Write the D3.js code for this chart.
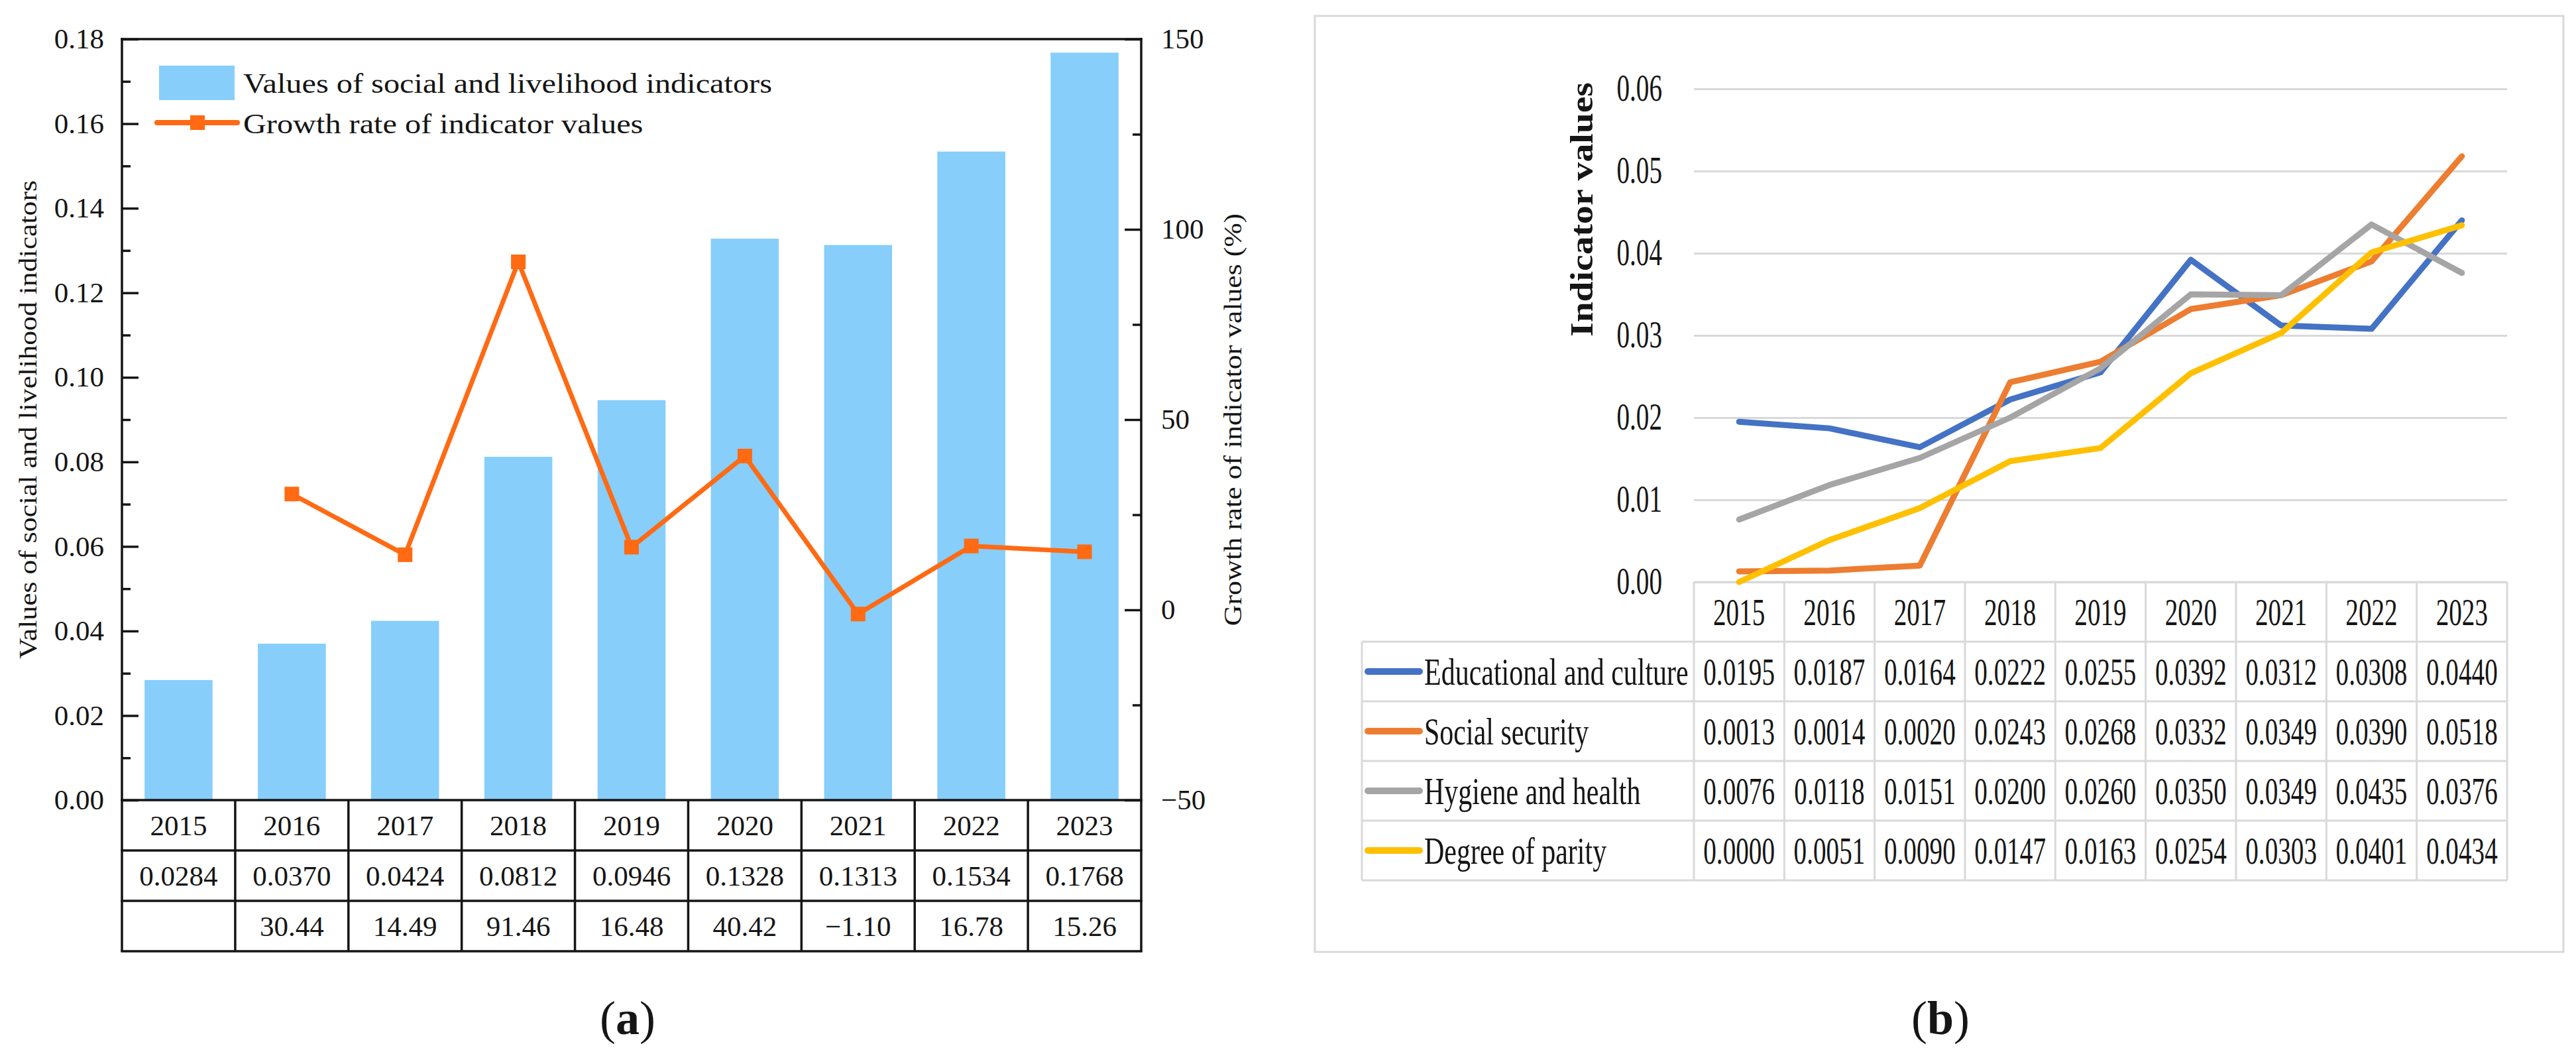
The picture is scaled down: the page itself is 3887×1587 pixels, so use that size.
<!DOCTYPE html>
<html>
<head>
<meta charset="utf-8">
<script src="https://cdn.jsdelivr.net/npm/d3@7"></script>
<style>
  body { margin: 0; background: #fff; }
  svg { display: block; }
  text { font-family: "Liberation Serif", "Times New Roman", serif; fill: #151515; }
</style>
</head>
<body>
<div id="chart"></div>
<script>

    // ---- data, panel (a) ----
    const years = ['2015', '2016', '2017', '2018', '2019', '2020', '2021', '2022', '2023'];
    const indicatorValues = [0.0284, 0.0370, 0.0424, 0.0812, 0.0946, 0.1328, 0.1313, 0.1534, 0.1768];
    const growthRates = [null, 30.44, 14.49, 91.46, 16.48, 40.42, -1.10, 16.78, 15.26];
    const leftTicks = [0, 0.02, 0.04, 0.06, 0.08, 0.10, 0.12, 0.14, 0.16, 0.18];
    const leftMinor = [0.01, 0.03, 0.05, 0.07, 0.09, 0.11, 0.13, 0.15, 0.17];
    const rightTicks = [-50, 0, 50, 100, 150];
    const rightMinor = [-25, 25, 75, 125];

    // ---- data, panel (b) ----
    const seriesNames = ['Educational and culture', 'Social security', 'Hygiene and health', 'Degree of parity'];
    const eduCulture = [0.0195, 0.0187, 0.0164, 0.0222, 0.0255, 0.0392, 0.0312, 0.0308, 0.0440];
    const socialSecurity = [0.0013, 0.0014, 0.0020, 0.0243, 0.0268, 0.0332, 0.0349, 0.0390, 0.0518];
    const hygieneHealth = [0.0076, 0.0118, 0.0151, 0.0200, 0.0260, 0.0350, 0.0349, 0.0435, 0.0376];
    const parity = [0.0000, 0.0051, 0.0090, 0.0147, 0.0163, 0.0254, 0.0303, 0.0401, 0.0434];
    const seriesColors = ['#4472c4', '#ed7d31', '#a5a5a5', '#ffc000'];
    const bTicks = [0, 0.01, 0.02, 0.03, 0.04, 0.05, 0.06];

    const barColor = '#87cefa';
    const lineColor = '#ff6a13';
    const ink = '#151515';
    const grid = '#d9d9d9';

    const svg = d3.select('#chart').append('svg')
        .attr('width', 3887)
        .attr('height', 1587);

    // text with a horizontal stretch (the figure was resized unevenly)
    function label(g, x, y, str, size, sx, anchor) {
        return g.append('text')
            .attr('transform', `translate(${x},${y}) scale(${sx},1)`)
            .attr('text-anchor', anchor || 'middle')
            .attr('dy', '0.35em')
            .style('font-size', size + 'px')
            .text(str);
    }

    function squeeze(sel, sx) { // re-anchor axis labels so they can be scaled
        sel.each(function() {
            const t = d3.select(this);
            const x = +t.attr('x') || 0;
            t.attr('x', 0).attr('transform', `translate(${x},0) scale(${sx},1)`);
        });
    }

    // =================== panel (a) ===================
    const a = { left: 184, right: 1722, top: 59, bottom: 1207, row: 76 };
    const ga = svg.append('g');

    const xa = d3.scaleBand().domain(years).range([a.left, a.right])
        .paddingInner(0.4).paddingOuter(0.2);
    const ya = d3.scaleLinear().domain([0, 0.18]).range([a.bottom, a.top]);
    const yg = d3.scaleLinear().domain([-50, 150]).range([a.bottom, a.top]);
    const cx = d => xa(d) + xa.bandwidth() / 2;

    ga.selectAll('rect.bar')
        .data(years.map((y, i) => ({ year: y, v: indicatorValues[i] })))
        .enter().append('rect')
        .attr('class', 'bar')
        .attr('x', d => xa(d.year))
        .attr('width', xa.bandwidth())
        .attr('y', d => ya(d.v))
        .attr('height', d => ya(0) - ya(d.v))
        .style('fill', barColor);

    const growth = years.map((y, i) => ({ year: y, g: growthRates[i] })).filter(d => d.g !== null);

    ga.append('path')
        .datum(growth)
        .attr('d', d3.line().x(d => cx(d.year)).y(d => yg(d.g)))
        .style('fill', 'none')
        .style('stroke', lineColor)
        .style('stroke-width', 7)
        .style('stroke-linejoin', 'round');

    ga.selectAll('rect.mk')
        .data(growth)
        .enter().append('rect')
        .attr('class', 'mk')
        .attr('x', d => cx(d.year) - 11)
        .attr('y', d => yg(d.g) - 11)
        .attr('width', 22)
        .attr('height', 22)
        .style('fill', lineColor);

    // axes, ticks pointing inward
    function styleAxis(g) {
        g.select('.domain').remove();
        g.selectAll('line').style('stroke', ink).style('stroke-width', 3.5);
        g.selectAll('text').style('font-size', '43px').style('font-family', '"Liberation Serif", serif').style('fill', ink);
    }

    ga.append('g').attr('transform', `translate(${a.left},0)`)
        .call(d3.axisLeft(ya).tickValues(leftTicks).tickFormat(d3.format('.2f')).tickSize(-25).tickPadding(27))
        .call(styleAxis);
    ga.append('g').attr('transform', `translate(${a.left},0)`)
        .call(d3.axisLeft(ya).tickValues(leftMinor).tickFormat('').tickSize(-13))
        .call(styleAxis);
    ga.append('g').attr('transform', `translate(${a.right},0)`)
        .call(d3.axisRight(yg).tickValues(rightTicks).tickFormat(d3.format('d')).tickSize(-25).tickPadding(30))
        .call(styleAxis);
    ga.append('g').attr('transform', `translate(${a.right},0)`)
        .call(d3.axisRight(yg).tickValues(rightMinor).tickFormat('').tickSize(-13))
        .call(styleAxis);

    // frame: left, right, top
    [[a.left, a.top, a.left, a.bottom], [a.right, a.top, a.right, a.bottom], [a.left, a.top, a.right, a.top]]
        .forEach(l => ga.append('line')
            .attr('x1', l[0]).attr('y1', l[1]).attr('x2', l[2]).attr('y2', l[3])
            .style('stroke', ink).style('stroke-width', 3.5).style('stroke-linecap', 'square'));

    // data table under the plot
    const rowsA = [years, indicatorValues.map(d3.format('.4f')),
        growthRates.map(d => d === null ? '' : d3.format('.2f')(d))];

    d3.range(rowsA.length + 1).forEach(i => {
        ga.append('line')
            .attr('x1', a.left).attr('x2', a.right)
            .attr('y1', a.bottom + i * a.row).attr('y2', a.bottom + i * a.row)
            .style('stroke', ink).style('stroke-width', 3.5).style('stroke-linecap', 'square');
    });
    d3.range(years.length + 1).forEach(i => {
        const x = a.left + i * xa.step();
        ga.append('line')
            .attr('x1', x).attr('x2', x)
            .attr('y1', a.bottom).attr('y2', a.bottom + rowsA.length * a.row)
            .style('stroke', ink).style('stroke-width', 3.5);
    });
    rowsA.forEach((row, r) => {
        row.forEach((txt, i) => {
            label(ga, cx(years[i]), a.bottom + (r + 0.5) * a.row, txt, 43, 1);
        });
    });

    // legend
    ga.append('rect').attr('x', 240).attr('y', 99).attr('width', 114).attr('height', 52).style('fill', barColor);
    ga.append('line').attr('x1', 237).attr('x2', 358).attr('y1', 185).attr('y2', 185)
        .style('stroke', lineColor).style('stroke-width', 8).style('stroke-linecap', 'round');
    ga.append('rect').attr('x', 287).attr('y', 174).attr('width', 22).attr('height', 22).style('fill', lineColor);
    label(ga, 367, 125, 'Values of social and livelihood indicators', 42, 1.15, 'start');
    label(ga, 367, 186, 'Growth rate of indicator values', 42, 1.15, 'start');

    // axis titles
    ga.append('text')
        .attr('transform', `translate(55,${(a.top + a.bottom) / 2}) rotate(-90) scale(1.15,1)`)
        .attr('text-anchor', 'middle')
        .style('font-size', '38px')
        .text('Values of social and livelihood indicators');
    ga.append('text')
        .attr('transform', `translate(1873,${(a.top + a.bottom) / 2}) rotate(-90) scale(1.15,1)`)
        .attr('text-anchor', 'middle')
        .style('font-size', '38px')
        .text('Growth rate of indicator values (%)');

    // =================== panel (b) ===================
    const b = { left: 2556, right: 3783, top: 134, bottom: 878, row: 90, legendLeft: 2055 };
    const sx = 0.7;
    const gb = svg.append('g');

    gb.append('rect')
        .attr('x', 1984).attr('y', 24).attr('width', 1884).attr('height', 1412)
        .style('fill', 'none').style('stroke', grid).style('stroke-width', 3);

    const xb = d3.scaleBand().domain(years).range([b.left, b.right]).padding(0);
    const yb = d3.scaleLinear().domain([0, 0.06]).range([b.bottom, b.top]);
    const bx = d => xb(d) + xb.bandwidth() / 2;

    gb.append('g').attr('transform', `translate(${b.left},0)`)
        .call(d3.axisLeft(yb).tickValues(bTicks).tickFormat(d3.format('.2f'))
            .tickSize(-(b.right - b.left)).tickPadding(48))
        .call(g => {
            g.select('.domain').remove();
            g.selectAll('line').style('stroke', grid).style('stroke-width', 3);
            g.selectAll('text').style('font-size', '56px').style('font-family', '"Liberation Serif", serif').style('fill', ink);
            squeeze(g.selectAll('text'), sx);
        });

    gb.append('text')
        .attr('transform', 'translate(2403,316) rotate(-90) scale(1.16,1)')
        .attr('text-anchor', 'middle')
        .style('font-size', '48px')
        .style('font-weight', 'bold')
        .text('Indicator values');

    // table
    const tableLine = (x1, y1, x2, y2) => gb.append('line')
        .attr('x1', x1).attr('y1', y1).attr('x2', x2).attr('y2', y2)
        .style('stroke', grid).style('stroke-width', 3);

    const seriesB = [eduCulture, socialSecurity, hygieneHealth, parity];
    const tableBottom = b.bottom + (seriesB.length + 1) * b.row;

    tableLine(b.left, b.bottom, b.right, b.bottom);
    d3.range(1, seriesB.length + 2).forEach(i =>
        tableLine(b.legendLeft, b.bottom + i * b.row, b.right, b.bottom + i * b.row));
    tableLine(b.legendLeft, b.bottom + b.row, b.legendLeft, tableBottom);
    d3.range(years.length + 1).forEach(i =>
        tableLine(b.left + i * xb.step(), b.bottom, b.left + i * xb.step(), tableBottom));

    years.forEach(y => label(gb, bx(y), b.bottom + b.row / 2, y, 56, sx));
    seriesB.forEach((vals, s) => {
        const yc = b.bottom + (s + 1.5) * b.row;
        gb.append('line')
            .attr('x1', 2064).attr('x2', 2142).attr('y1', yc).attr('y2', yc)
            .style('stroke', seriesColors[s]).style('stroke-width', 10).style('stroke-linecap', 'round');
        label(gb, 2149, yc, seriesNames[s], 56, 0.75, 'start');
        vals.forEach((v, i) => label(gb, bx(years[i]), yc, d3.format('.4f')(v), 56, sx));
    });

    // lines (drawn in series order, last on top)
    const lineB = d3.line().x((d, i) => bx(years[i])).y(d => yb(d));
    gb.selectAll('path.series')
        .data(seriesB)
        .enter().append('path')
        .attr('class', 'series')
        .attr('d', d => lineB(d))
        .style('fill', 'none')
        .style('stroke', (d, i) => seriesColors[i])
        .style('stroke-width', 9)
        .style('stroke-linejoin', 'round')
        .style('stroke-linecap', 'round');

    // =================== panel captions ===================
    [['a', 947], ['b', 2928]].forEach(c => {
        const t = svg.append('text')
            .attr('x', c[1]).attr('y', 1560)
            .attr('text-anchor', 'middle')
            .style('font-size', '72px');
        t.append('tspan').text('(');
        t.append('tspan').style('font-weight', 'bold').text(c[0]);
        t.append('tspan').text(')');
    });

</script>
</body>
</html>
